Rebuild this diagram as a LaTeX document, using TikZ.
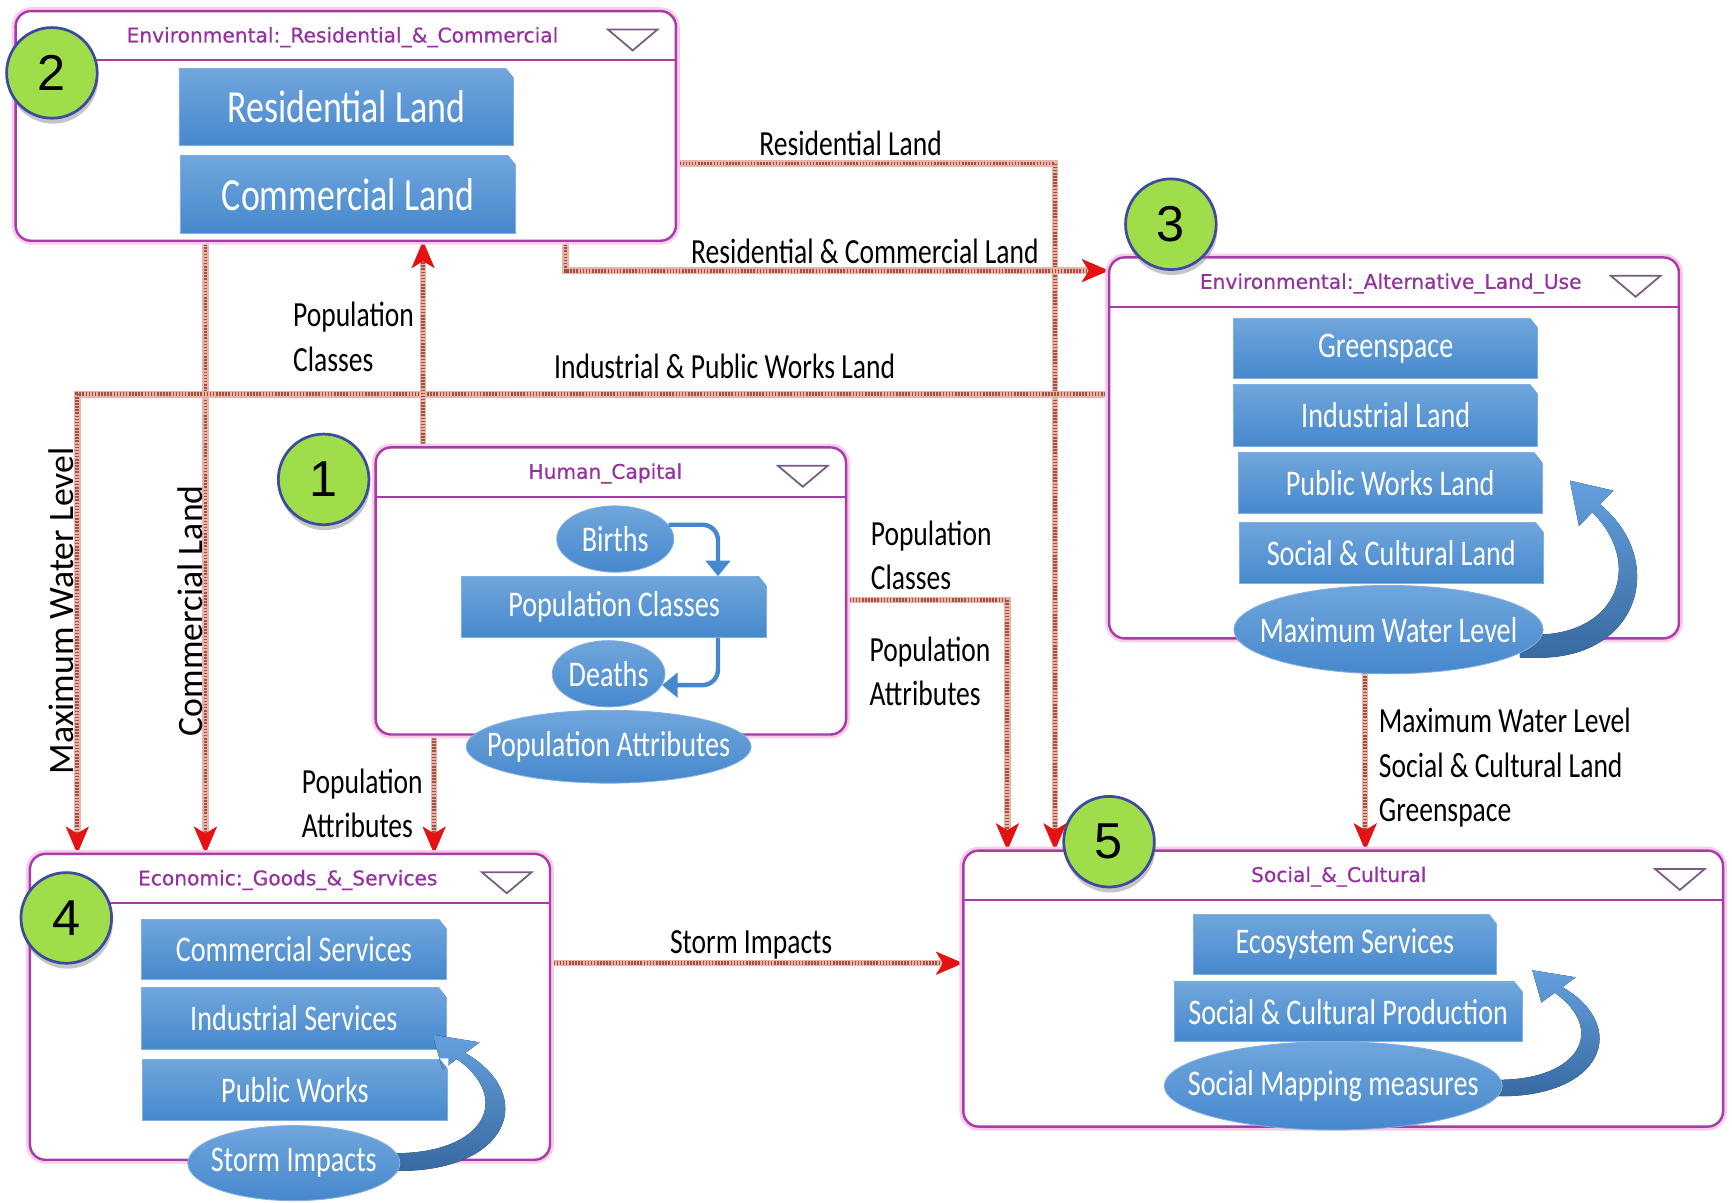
\documentclass[tikz,border=0pt]{standalone}
\usepackage{fontspec}
\setmainfont[FakeStretch=0.78]{Carlito}
\newfontfamily\vfont{Carlito}
\newfontfamily\hdrfont[FakeBold=0.6]{DejaVu Sans}
\newfontfamily\numfont{Liberation Sans}
\usetikzlibrary{arrows.meta,shapes.geometric,shadows}
\def\PX{*0.569pt}
\definecolor{boxpurple}{RGB}{165,60,170}
\definecolor{hdrpurple}{RGB}{150,50,160}
\definecolor{chainbase}{RGB}{232,180,168}
\definecolor{chaindark}{RGB}{160,82,68}
\definecolor{tipred}{RGB}{228,18,18}
\definecolor{bluetop}{RGB}{112,166,220}
\definecolor{bluebot}{RGB}{70,136,205}
\definecolor{blueedge}{RGB}{130,175,225}
\definecolor{greenfill}{RGB}{160,221,75}
\definecolor{circedge}{RGB}{60,75,160}
\definecolor{arrowtop}{RGB}{100,160,222}
\definecolor{arrowbot}{RGB}{55,105,160}
\definecolor{tricol}{RGB}{120,90,130}
\begin{document}
\begin{tikzpicture}[x=0.02cm,y=-0.02cm,
 capbox/.style={draw=boxpurple, line width=1.25pt, fill=white, rounded corners=8pt, preaction={draw=magenta!20, line width=4pt}},
 hdrline/.style={draw=boxpurple, line width=1.1pt},
 hdr/.style={font=\hdrfont\fontsize{10.4}{12}\selectfont, text=hdrpurple, inner sep=0pt},
 tri/.style={draw=tricol, line width=0.9pt, line join=miter},
 item/.style={rectangle, top color=bluetop, bottom color=bluebot, draw=blueedge, line width=0.45pt, text=white, inner sep=0pt, font=\fontsize{18.6}{20}\selectfont},
 bigitem/.style={item, font=\fontsize{23.7}{25}\selectfont},
 ell/.style={ellipse, top color=bluetop, bottom color=bluebot, draw=blueedge, line width=0.45pt, text=white, inner sep=0pt, font=\fontsize{18.6}{20}\selectfont},
 numc/.style={circle, fill=greenfill, draw=circedge, line width=1.4pt, minimum size=46.7pt, inner sep=0pt, font=\numfont\fontsize{26}{26}\selectfont, drop shadow={opacity=0.45, shadow xshift=0.6pt, shadow yshift=-2.8pt}},
 conn/.style={draw=chaindark, line width=2pt, dash pattern=on 0.8pt off 0.8pt, preaction={draw=chainbase, line width=3.3pt, solid}, -{Stealth[length=13.6pt, width=11.4pt, inset=3.4pt, color=tipred]}},
 lbl/.style={font=\fontsize{18.2}{22.8}\selectfont, align=left, inner sep=0pt},
 vlbl/.style={font=\vfont\fontsize{18.4}{22.8}\selectfont, inner sep=0pt, rotate=90},
 bigarrow/.style={top color=arrowtop, bottom color=arrowbot, draw=none},
 smallarr/.style={draw=bluebot, line width=2.3pt, rounded corners=8pt, -{Triangle[length=8pt,width=12.5pt]}},
]
\useasboundingbox[fill=white] (0,0) rectangle (1568,1088.2);

% ---------- box positions (named) ----------
\path (313,114) node[minimum width=598\PX, minimum height=208\PX] (b2) {};
\path (1262,405.5) node[minimum width=516\PX, minimum height=345\PX] (b3) {};
\path (553,535) node[minimum width=426\PX, minimum height=260\PX] (b1) {};
\path (262.5,911.5) node[minimum width=471\PX, minimum height=277\PX] (b4) {};
\path (1216,895) node[minimum width=688\PX, minimum height=250\PX] (b5) {};

% ---------- connector helper coordinates ----------
\coordinate (rlA) at (0,148);
\coordinate (rlB) at (955,0);
\coordinate (rcA) at (512,245);
\coordinate (clX) at (186,0);
\coordinate (ipA) at (70,357);
\coordinate (pcX) at (383,0);
\coordinate (pc2) at (912,543);
\coordinate (paX) at (393,0);
\coordinate (mwX) at (1236,0);
\coordinate (siY) at (0,872);

% ---------- connectors ----------
\draw[conn] (b2.east |- rlA) -| (rlB |- b5.north);
\draw[conn] (rcA |- b2.south) |- (b3.west |- rcA);
\draw[conn] (clX |- b2.south) -- (clX |- b4.north);
\draw[conn] (b3.west |- ipA) -| (ipA |- b4.north);
\draw[conn] (pcX |- b1.north) -- (pcX |- b2.south);
\draw[conn] (b1.east |- pc2) -| (pc2 |- b5.north);
\draw[conn] (paX |- b1.south) -- (paX |- b4.north);
\draw[conn] (mwX |- b3.south) -- (mwX |- b5.north);
\draw[conn] (b4.east |- siY) -- (b5.west |- siY);

% ---------- boxes (drawn over connectors) ----------
\path (313,114) node[capbox, minimum width=598\PX, minimum height=208\PX] (B2) {};
\path (1262,405.5) node[capbox, minimum width=516\PX, minimum height=345\PX] (B3) {};
\path (553,535) node[capbox, minimum width=426\PX, minimum height=260\PX] (B1) {};
\path (262.5,911.5) node[capbox, minimum width=471\PX, minimum height=277\PX] (B4) {};
\path (1216,895) node[capbox, minimum width=688\PX, minimum height=250\PX] (B5) {};

% headers
\foreach \b in {b1,b2,b3,b4,b5}{
  \draw[hdrline] ([yshift=-45\PX]\b.north west) -- ([yshift=-45\PX]\b.north east);
  \draw[tri] ([xshift=-62\PX,yshift=-17\PX]\b.north east) -- ++(45\PX,0) -- ++(-22.5\PX,-19\PX) -- cycle;
}
\node[hdr] (t2) at ([xshift=-3\PX,yshift=-24\PX]b2.north) {Environmental:\_Residential\_\&\_Commercial};
\node[hdr] (t3) at ([xshift=-3\PX,yshift=-24\PX]b3.north) {Environmental:\_Alternative\_Land\_Use};
\node[hdr] (t1) at ([xshift=-5\PX,yshift=-24\PX]b1.north) {Human\_Capital};
\node[hdr] (t4) at ([xshift=-2\PX,yshift=-24\PX]b4.north) {Economic:\_Goods\_\&\_Services};
\node[hdr] (t5) at ([xshift=-4\PX,yshift=-24\PX]b5.north) {Social\_\&\_Cultural};

% ---------- box 2 items ----------
\node[bigitem, minimum width=303\PX, minimum height=70\PX] (rl) at (313.5,97) {Residential Land};
\node[bigitem, minimum width=304\PX, minimum height=70\PX] (cl) at (315,176) {Commercial Land};

% ---------- box 3 items ----------
\node[item, minimum width=275\PX, minimum height=55\PX] (gs) at (1254.5,315.5) {Greenspace};
\node[item, minimum width=275\PX, minimum height=56\PX] (il) at (1254.5,376) {Industrial Land};
\node[item, minimum width=275\PX, minimum height=55\PX] (pw) at (1258.5,437.5) {Public Works Land};
\node[item, minimum width=275\PX, minimum height=55\PX] (sc) at (1259.5,500.5) {Social \& Cultural Land};
\begin{scope}[shift={(1390,585)}, yscale=1.04]
  \fill[bigarrow] (-14,10) -- (0,10) .. controls (95,12) and (120,-75) .. (58.5,-123.5) -- (70.6,-135.4) -- (31.2,-144.1) -- (39.4,-104.6) -- (51.5,-116.5) .. controls (98,-72) and (75,-10) .. (0,-10) -- (-14,-10) -- cycle;
\end{scope}
\node[ell, minimum width=280\PX, minimum height=80\PX] (mwl) at (1257,570) {\makebox[0pt]{Maximum Water Level}};

% ---------- box 1 items ----------
\node[ell, minimum width=106\PX, minimum height=60\PX] (births) at (557,488) {\makebox[0pt]{Births}};
\node[item, minimum width=276\PX, minimum height=55\PX] (pc) at (556,549.5) {Population Classes};
\node[ell, minimum width=102\PX, minimum height=60\PX] (deaths) at (551,610) {\makebox[0pt]{Deaths}};
\node[ell, minimum width=258\PX, minimum height=66\PX] (pa) at (551,676) {\makebox[0pt]{Population Attributes}};
\coordinate (bpx) at (650,0);
\draw[smallarr] (births.15) -| (bpx |- pc.north);
\draw[smallarr] (bpx |- pc.south) |- (deaths.-12);

% ---------- box 4 items ----------
\node[item, minimum width=276\PX, minimum height=55\PX] (cs) at (266,859.5) {Commercial Services};
\node[item, minimum width=276\PX, minimum height=56\PX] (is) at (266,922) {Industrial Services};
\node[item, minimum width=276\PX, minimum height=55\PX] (pwk) at (267,986.5) {Public Works};
\begin{scope}[shift={(358,1052)}, yscale=0.8, xscale=1.08]
  \fill[bigarrow] (-14,10) -- (0,10) .. controls (95,12) and (120,-75) .. (58.5,-123.5) -- (70.6,-135.4) -- (31.2,-144.1) -- (39.4,-104.6) -- (51.5,-116.5) .. controls (98,-72) and (75,-10) .. (0,-10) -- (-14,-10) -- cycle;
\end{scope}
\node[ell, minimum width=192\PX, minimum height=68\PX] (si) at (266,1053) {\makebox[0pt]{Storm Impacts}};

% ---------- box 5 items ----------
\node[item, minimum width=275\PX, minimum height=54\PX] (es) at (1217.5,855) {Ecosystem Services};
\node[item, minimum width=315\PX, minimum height=54\PX] (scp) at (1220.5,916) {Social \& Cultural Production};
\begin{scope}[shift={(1356,985)}, yscale=0.74]
  \fill[bigarrow] (-14,10) -- (0,10) .. controls (95,12) and (120,-75) .. (58.5,-123.5) -- (70.6,-135.4) -- (31.2,-144.1) -- (39.4,-104.6) -- (51.5,-116.5) .. controls (98,-72) and (75,-10) .. (0,-10) -- (-14,-10) -- cycle;
\end{scope}
\node[ell, minimum width=306\PX, minimum height=80\PX] (smm) at (1207,983) {\makebox[0pt]{Social Mapping measures}};

% chamfered top-right corners of rectangles
\foreach \n in {rl,cl,gs,il,pw,sc,pc,cs,is,pwk,es,scp}{
  \fill[white] ([xshift=0.3pt,yshift=0.3pt]\n.north east) -- ++(-4.5pt,0) -- ++(4.5pt,-5.7pt) -- cycle;
}

% ---------- connector labels ----------
\node[lbl] (l1) at (770,130) {Residential Land};
\node[lbl] (l2) at (783,228) {Residential \& Commercial Land};
\node[lbl] (l3) at (656,332) {Industrial \& Public Works Land};
\node[vlbl] (l4) at (55,553) {Maximum Water Level};
\node[vlbl] (l5) at (172,553) {Commercial Land};
\node[lbl, anchor=west] (l6) at (265,305) {Population\\Classes};
\node[lbl, anchor=west] (l7) at (788,503) {Population\\Classes};
\node[lbl, anchor=west] (l8) at (787,608) {Population\\Attributes};
\node[lbl, anchor=west] (l9) at (273,727) {Population\\Attributes};
\node[lbl, anchor=west] (l10) at (1248,695) {Maximum Water Level\\Social \& Cultural Land\\Greenspace};
\node[lbl] (l11) at (680,855) {Storm Impacts};

% ---------- number circles ----------
\node[numc] (n2) at (47,66) {2};
\node[numc] (n3) at (1060,203) {3};
\node[numc] (n1) at (293,434) {1};
\node[numc] (n4) at (60,831) {4};
\node[numc] (n5) at (1004,762) {5};
\end{tikzpicture}
\end{document}
